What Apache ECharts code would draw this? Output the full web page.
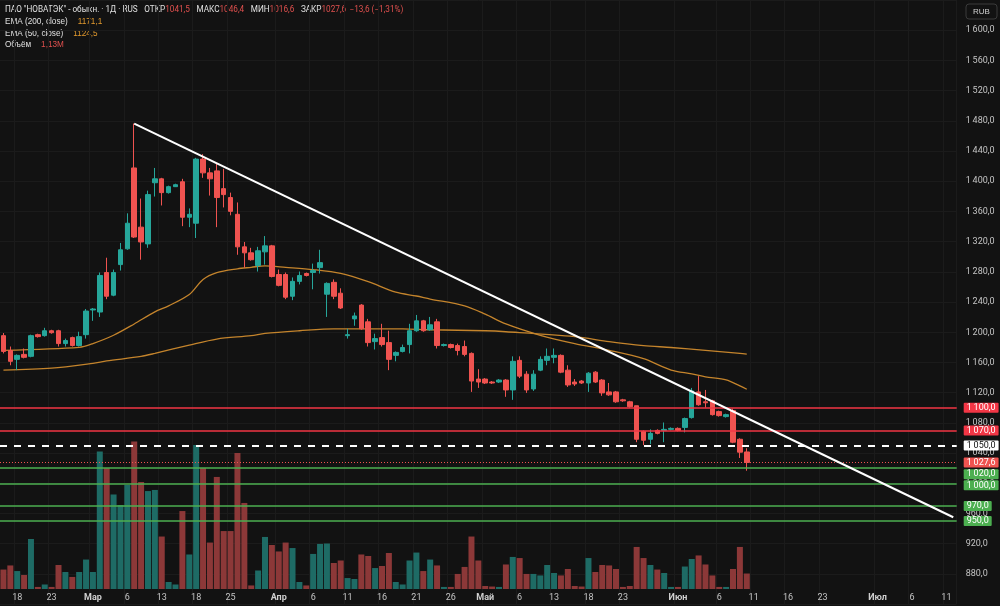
<!DOCTYPE html>
<html>
<head>
<meta charset="utf-8">
<script src="https://cdn.jsdelivr.net/npm/echarts@6/dist/echarts.min.js"></script>
<style>
html, body { margin: 0; padding: 0; background: #121212; }
#chart { width: 1000px; height: 606px; }
</style>
</head>
<body>
<div id="chart"></div>
<script>
// daily bars, one slot per trading session
var opens = [1195.5, 1175.9, 1164.1, 1170.7, 1168.1, 1196.8, 1195.5, 1202.0, 1202.0, 1185.0,
    1192.9, 1182.4, 1196.8, 1229.5, 1226.8, 1279.1, 1249.1, 1289.6, 1310.5, 1417.6,
    1339.2, 1317.0, 1398.0, 1403.2, 1384.9, 1392.8, 1399.3, 1352.3, 1344.4, 1429.3,
    1411.1, 1413.7, 1390.2, 1378.4, 1356.2, 1313.1, 1305.2, 1288.3, 1306.5, 1314.4,
    1276.5, 1276.5, 1247.7, 1267.4, 1277.8, 1279.1, 1285.6, 1250.4, 1266.1, 1251.7,
    1195.5, 1217.7, 1236.0, 1213.8, 1187.6, 1192.9, 1186.3, 1169.4, 1174.6, 1183.7,
    1202.0, 1215.1, 1203.3, 1213.8, 1182.4, 1183.7, 1182.4, 1181.1, 1172.0, 1138.0,
    1138.0, 1134.1, 1134.1, 1136.7, 1123.6, 1162.8, 1144.5, 1124.9, 1149.8, 1162.8,
    1166.8, 1169.4, 1149.8, 1134.1, 1135.4, 1132.8, 1147.2, 1136.7, 1121.0, 1121.0,
    1110.5, 1107.9, 1102.7, 1068.7, 1058.3, 1070.0, 1070.0, 1071.4, 1072.7, 1074.0,
    1087.0, 1121.0, 1107.9, 1109.2, 1094.9, 1088.3, 1096.2, 1058.3, 1041.5];
var closes = [1174.6, 1161.5, 1169.4, 1166.8, 1195.5, 1194.2, 1202.0, 1199.4, 1185.0, 1189.0,
    1182.4, 1194.2, 1228.1, 1230.8, 1275.2, 1247.7, 1279.1, 1309.2, 1344.4, 1326.1,
    1319.6, 1382.3, 1403.2, 1384.9, 1392.8, 1395.4, 1352.3, 1356.2, 1429.3, 1411.1,
    1403.2, 1378.4, 1382.3, 1360.1, 1313.1, 1305.2, 1296.1, 1307.9, 1314.4, 1273.9,
    1262.1, 1246.4, 1267.4, 1275.2, 1275.2, 1281.7, 1292.2, 1264.7, 1247.7, 1232.1,
    1196.8, 1221.6, 1204.6, 1186.3, 1191.6, 1183.7, 1164.1, 1173.3, 1179.8, 1202.0,
    1215.1, 1202.0, 1209.9, 1182.4, 1183.7, 1179.8, 1175.9, 1170.7, 1135.4, 1134.1,
    1132.8, 1132.8, 1136.7, 1123.6, 1161.5, 1141.9, 1123.6, 1144.5, 1164.1, 1168.1,
    1169.4, 1147.2, 1130.2, 1131.5, 1132.8, 1145.8, 1134.1, 1119.7, 1117.1, 1107.9,
    1109.2, 1101.4, 1058.3, 1057.0, 1066.1, 1066.1, 1071.4, 1072.7, 1070.0, 1085.7,
    1122.3, 1104.0, 1106.6, 1090.9, 1089.6, 1090.9, 1054.4, 1041.2, 1027.6];
var lows = [1172.0, 1156.3, 1149.8, 1165.4, 1166.8, 1192.9, 1194.2, 1198.1, 1181.1, 1181.1,
    1181.1, 1181.1, 1191.6, 1215.1, 1220.3, 1243.8, 1247.7, 1281.7, 1309.2, 1324.8,
    1296.1, 1311.8, 1379.7, 1367.9, 1383.6, 1394.1, 1340.5, 1339.2, 1324.8, 1404.5,
    1381.0, 1339.2, 1365.3, 1354.9, 1302.6, 1285.6, 1294.8, 1280.4, 1289.6, 1272.6,
    1260.8, 1243.8, 1242.5, 1263.4, 1273.9, 1256.9, 1277.8, 1220.3, 1243.8, 1230.8,
    1191.6, 1208.6, 1203.3, 1181.1, 1177.2, 1181.1, 1149.8, 1161.5, 1173.3, 1172.0,
    1200.7, 1200.7, 1202.0, 1178.5, 1181.1, 1178.5, 1169.4, 1168.1, 1121.0, 1126.3,
    1131.5, 1131.5, 1132.8, 1114.5, 1110.5, 1139.3, 1119.7, 1122.3, 1148.5, 1156.3,
    1158.9, 1145.8, 1127.6, 1128.9, 1131.5, 1121.0, 1132.8, 1115.8, 1115.8, 1106.6,
    1107.9, 1100.1, 1054.4, 1050.5, 1051.8, 1064.8, 1054.4, 1070.0, 1068.7, 1067.4,
    1085.7, 1102.7, 1100.1, 1089.6, 1088.3, 1087.0, 1053.1, 1033.5, 1016.6];
var highs = [1199.0, 1181.1, 1170.7, 1178.5, 1196.8, 1198.1, 1205.9, 1203.3, 1203.3, 1191.6,
    1194.2, 1200.7, 1230.8, 1232.1, 1279.1, 1298.7, 1283.0, 1318.3, 1357.5, 1476.4,
    1377.1, 1387.5, 1417.6, 1404.5, 1394.1, 1396.7, 1403.2, 1364.0, 1431.0, 1435.9,
    1417.6, 1422.8, 1416.3, 1384.9, 1371.9, 1319.6, 1311.8, 1313.1, 1327.4, 1315.7,
    1283.0, 1279.1, 1272.6, 1280.4, 1279.1, 1290.9, 1309.2, 1266.1, 1270.0, 1258.2,
    1204.6, 1226.1, 1237.3, 1217.7, 1198.1, 1211.2, 1202.0, 1174.6, 1183.7, 1211.2,
    1222.9, 1216.4, 1220.3, 1217.7, 1185.0, 1185.0, 1185.0, 1189.0, 1173.3, 1151.1,
    1139.3, 1135.4, 1138.0, 1138.0, 1168.1, 1168.1, 1148.5, 1149.8, 1168.1, 1178.5,
    1178.5, 1170.7, 1156.3, 1138.0, 1136.7, 1147.2, 1148.5, 1138.0, 1132.8, 1122.3,
    1111.8, 1109.2, 1102.7, 1070.0, 1071.4, 1071.4, 1080.5, 1074.0, 1074.0, 1087.0,
    1126.3, 1141.9, 1123.6, 1110.5, 1096.2, 1092.2, 1098.8, 1059.6, 1046.4];
// volume, millions of shares
var volumes = [1.42, 1.72, 1.31, 1.02, 3.65, 0.15, 0.33, 0.15, 1.75, 1.24,
    0.88, 1.24, 2.15, 1.24, 10.04, 8.83, 6.9, 6.13, 7.59, 10.77,
    7.81, 7.15, 7.23, 3.83, 0.51, 0.33, 5.69, 2.52, 10.51, 8.83,
    3.39, 8.18, 4.23, 4.23, 9.93, 6.28, 0.26, 1.35, 3.8, 3.21,
    2.74, 3.39, 2.99, 0.51, 0.26, 2.56, 3.29, 3.32, 1.9, 2.08,
    0.8, 0.73, 2.52, 2.41, 1.53, 1.68, 2.63, 0.51, 0.33, 2.08,
    2.66, 1.31, 2.15, 1.72, 0.15, 0.15, 1.1, 1.61, 3.83, 2.08,
    0.22, 0.18, 0.15, 1.79, 2.34, 2.26, 1.1, 1.1, 0.99, 1.75,
    1.17, 0.99, 1.46, 0.22, 0.18, 2.26, 1.24, 1.75, 1.72, 1.46,
    0.15, 0.22, 3.07, 2.26, 1.75, 1.42, 1.17, 0.15, 0.15, 1.64,
    2.19, 2.45, 1.79, 0.99, 0.15, 0.15, 1.46, 3.07, 1.13];
// EMA lines: [slot, value]
var ema50 = [[0, 1176], [11, 1180], [13, 1185], [16, 1196], [19, 1211], [22, 1227], [24, 1235],
    [27, 1250], [29, 1270], [31, 1279], [34, 1284], [36, 1286], [38, 1288], [41, 1286],
    [45, 1283], [49, 1278], [53, 1267], [57, 1253], [60, 1248], [62, 1244], [67, 1235],
    [70, 1224], [73, 1211], [78, 1196], [83, 1185], [88, 1176], [93, 1165], [97, 1150],
    [100, 1145], [102, 1141], [105, 1137], [107, 1129], [108, 1124.5]];
var ema200 = [[0, 1149.8], [7, 1152.4], [13, 1158.9], [15, 1162], [20, 1168], [22, 1172],
    [27, 1183], [31, 1191], [36, 1195.5], [38, 1198.5], [43, 1202], [48, 1204.6], [53, 1204.6],
    [58, 1204.6], [62, 1203.3], [70, 1202], [73, 1200.7], [83, 1194.2], [88, 1187.6],
    [93, 1182.4], [97, 1179.8], [102, 1175.9], [107, 1172], [108, 1171.1]];
var tickIdx = [2, 7, 13, 18, 23, 28, 33, 40, 45, 50, 55, 60, 65, 70, 75, 80, 85, 90, 98, 104, 109, 114, 119, 127, 132, 137];
var tickText = ['18', '23', 'Мар', '6', '13', '18', '25', 'Апр', '6', '11', '16', '21', '26', 'Май',
    '6', '13', '18', '23', 'Июн', '6', '11', '16', '23', 'Июл', '6', '11'];
var monthNames = ['Мар', 'Апр', 'Май', 'Июн', 'Июл'];
var resistLevels = [1100, 1070];
var pivotLevel = 1050;
var lastPrice = 1027.6;
var supportLevels = [1020, 1000, 970, 950];
var trendLine = [[19, 1476.4], [138, 955]];
var slotCount = 139;

var UP = '#26a69a', DOWN = '#ef5350';
var slots = [];
for (var i = 0; i < slotCount; i++) slots.push(String(i));
var tickMap = {};
tickIdx.forEach(function(t, k) { tickMap[t] = tickText[k]; });

function fmt(v) {
    var s = v.toFixed(1).split('.');
    var n = s[0];
    if (n.length > 3) n = n.slice(0, -3) + '\u2009' + n.slice(-3);
    return n + ',' + s[1];
}

var candles = opens.map(function(o, i) { return [o, closes[i], lows[i], highs[i]]; });
var volData = volumes.map(function(v, i) {
    return { value: v, itemStyle: { color: closes[i] >= opens[i] ? '#1e6b65' : '#8c3838' } };
});

// price box nudges so the scale boxes do not sit on top of each other
var boxShift = { 1020: 6, 1000: 2 };

function levelLine(v, color, type, width, boxBg, boxFg) {
    return {
        yAxis: v,
        lineStyle: { color: color, type: type, width: width },
        label: {
            show: true, position: 'end', distance: 7, formatter: fmt(v),
            offset: [0, boxShift[v] || 0],
            backgroundColor: boxBg, color: boxFg, fontSize: 9, padding: [1, 3, 0, 3],
            borderRadius: 1
        }
    };
}

var marks = [];
resistLevels.forEach(function(v) { marks.push(levelLine(v, '#f23645', 'solid', 1.5, '#f23645', '#ffffff')); });
marks.push(levelLine(pivotLevel, '#ffffff', [7, 7], 2, '#ffffff', '#111111'));
marks.push(levelLine(lastPrice, '#ef5350', [1, 2], 1, '#ef5350', '#ffffff'));
supportLevels.forEach(function(v) { marks.push(levelLine(v, '#4caf50', 'solid', 1.5, '#4caf50', '#ffffff')); });
marks.push([
    { coord: trendLine[0], lineStyle: { color: '#ffffff', width: 2, type: 'solid' }, label: { show: false } },
    { coord: trendLine[1], lineStyle: { color: '#ffffff', width: 2, type: 'solid' }, label: { show: false } }
]);

var FS = 8.2;
var chart = echarts.init(document.getElementById('chart'));
chart.setOption({
    animation: false,
    backgroundColor: '#121212',
    textStyle: { fontFamily: 'Roboto' },
    grid: [
        { left: -3.755, right: 43.3, top: -8.23, bottom: 1.9 },
        { left: -3.755, right: 43.3, top: 315, bottom: 17 }
    ],
    xAxis: [{
        type: 'category', gridIndex: 0, data: slots, boundaryGap: true,
        axisLine: { show: false }, axisTick: { show: false }, axisLabel: { show: false },
        splitLine: {
            show: true, interval: function(i) { return tickMap[i] !== undefined; },
            lineStyle: { color: '#1b1b1b', width: 1 }
        }
    }, {
        type: 'category', gridIndex: 1, data: slots, boundaryGap: true,
        axisLine: { show: false }, axisTick: { show: false }, splitLine: { show: false },
        axisLabel: {
            interval: function(i) { return tickMap[i] !== undefined; },
            margin: 4, color: '#c4c4c4', fontSize: 9,
            formatter: function(v, i) {
                var t = tickMap[i] || '';
                return monthNames.indexOf(t) >= 0 ? '{m|' + t + '}' : t;
            },
            rich: { m: { fontWeight: 'bold', fontSize: 9, color: '#d0d0d0' } }
        }
    }],
    yAxis: [{
        type: 'value', gridIndex: 0, position: 'right', min: 840, max: 1640, interval: 40,
        axisLine: { show: false }, axisTick: { show: false },
        axisLabel: {
            margin: 9, color: '#c4c4c4', fontSize: 9, align: 'left',
            showMinLabel: false, showMaxLabel: false,
            formatter: function(v) { return fmt(v); }
        },
        splitLine: { lineStyle: { color: '#1b1b1b', width: 1 } }
    }, {
        type: 'value', gridIndex: 1, min: 0, max: 20, show: false
    }],
    series: [{
        type: 'bar', xAxisIndex: 1, yAxisIndex: 1, data: volData, barWidth: 6, z: 1
    }, {
        type: 'line', xAxisIndex: 0, yAxisIndex: 0, data: ema200, showSymbol: false, smooth: 0.3,
        lineStyle: { color: '#c4842c', width: 1.3 }, z: 3
    }, {
        type: 'line', xAxisIndex: 0, yAxisIndex: 0, data: ema50, showSymbol: false, smooth: 0.3,
        lineStyle: { color: '#c4842c', width: 1.3 }, z: 3
    }, {
        type: 'candlestick', xAxisIndex: 0, yAxisIndex: 0, data: candles, barWidth: 5, z: 4,
        itemStyle: { color: UP, color0: DOWN, borderColor: UP, borderColor0: DOWN, borderWidth: 1 },
        markLine: { symbol: ['none', 'none'], silent: true, animation: false, data: marks }
    }],
    graphic: [{
        type: 'text', left: 5, top: 4,
        style: {
            text: '{t|ПАО "НОВАТЭК" - обыкн. · 1Д · RUS}  {t|ОТКР}{r|1041,5}  {t|МАКС}{r|1046,4}  {t|МИН}{r|1016,6}  {t|ЗАКР}{r|1027,6} {r|−13,6 (−1,31%)}',
            rich: {
                t: { fill: '#e0e0e0', fontSize: FS, fontFamily: 'Roboto' },
                r: { fill: '#e0504e', fontSize: FS, fontFamily: 'Roboto' }
            }
        }
    }, {
        type: 'text', left: 5, top: 16,
        style: {
            text: '{t|EMA (200, close)}   {o|1171,1}',
            rich: { t: { fill: '#e0e0e0', fontSize: FS }, o: { fill: '#e39a2e', fontSize: FS } }
        }
    }, {
        type: 'text', left: 5, top: 27.5,
        style: {
            text: '{t|EMA (50, close)}   {o|1124,5}',
            rich: { t: { fill: '#e0e0e0', fontSize: FS }, o: { fill: '#e39a2e', fontSize: FS } }
        }
    }, {
        type: 'text', left: 5, top: 39,
        style: {
            text: '{t|Объём}   {r|1,13M}',
            rich: { t: { fill: '#e0e0e0', fontSize: FS }, r: { fill: '#e0504e', fontSize: FS } }
        }
    }, {
        type: 'rect', shape: { x: 966, y: 4, width: 31, height: 15, r: 3 },
        style: { fill: '#121212', stroke: '#3a3a3a', lineWidth: 1 }, z: 100
    }, {
        type: 'text', x: 981.5, y: 11.5, z: 101,
        style: { text: 'RUB', fill: '#d0d0d0', fontSize: 8, align: 'center', verticalAlign: 'middle' }
    }]
});
</script>
</body>
</html>
